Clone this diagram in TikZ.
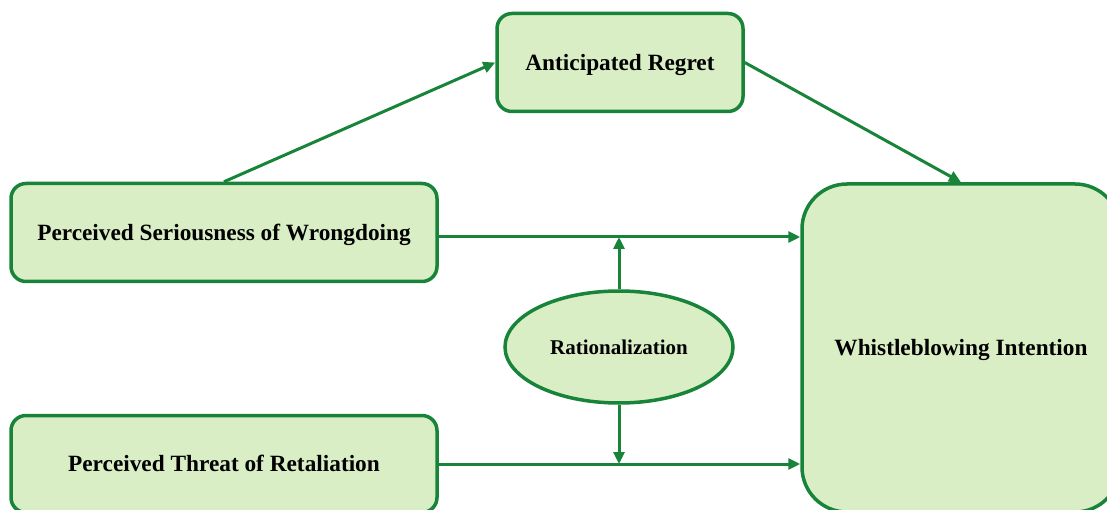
\documentclass[tikz,border=0pt]{standalone}
\usepackage{fontspec}
\setmainfont{Liberation Serif}
\usetikzlibrary{arrows.meta,shapes.geometric,calc}
\definecolor{bgreen}{HTML}{17843A}
\definecolor{lgreen}{HTML}{DAEEC6}
\tikzset{
  boxnode/.style={draw=bgreen, fill=lgreen, line width=3.5pt, rounded corners=15pt,
    font=\bfseries\fontsize{23.3}{28}\selectfont, align=center, inner sep=0pt,
    text height=15.5pt, text depth=0pt},
  ellnode/.style={draw=bgreen, fill=lgreen, line width=3.5pt, ellipse,
    font=\bfseries\fontsize{21}{25}\selectfont, inner sep=0pt,
    text height=14pt, text depth=0pt},
  conn/.style={draw=bgreen, line width=3pt, -{Triangle[length=12pt,width=11pt]}}
}
\begin{document}
\begin{tikzpicture}[x=1pt,y=-1pt]
\useasboundingbox (0,0) rectangle (1107,510);
\begin{scope}
\clip (0,0) rectangle (1107,510);
\node[boxnode, minimum width=246pt, minimum height=98pt] (ar) at (620,62.5) {Anticipated Regret};
\node[boxnode, minimum width=426pt, minimum height=98pt] (psw) at (224,232.5) {Perceived Seriousness of Wrongdoing};
\node[boxnode, minimum width=426pt, minimum height=97pt] (ptr) at (224,464) {Perceived Threat of Retaliation};
\node[boxnode, rounded corners=45pt, minimum width=318pt, minimum height=328pt] (wi) at (961,348) {Whistleblowing Intention};
\node[ellnode, minimum width=228pt, minimum height=112pt] (rat) at (619,347) {Rationalization};
\end{scope}
\coordinate (pswout) at ($(psw.east)+(0,4.5)$);
\coordinate (ptrout) at (ptr.east);
\coordinate (up) at (rat.north |- pswout);
\coordinate (dn) at (rat.south |- ptrout);
\draw[conn] (psw.north) -- (ar.west);
\draw[conn] (ar.east) -- (wi.north);
\draw[conn] (pswout) -- (pswout -| wi.west);
\draw[conn] (ptrout) -- (ptrout -| wi.west);
\draw[conn] (rat.north) -- (up);
\draw[conn] (rat.south) -- (dn);
\end{tikzpicture}
\end{document}
